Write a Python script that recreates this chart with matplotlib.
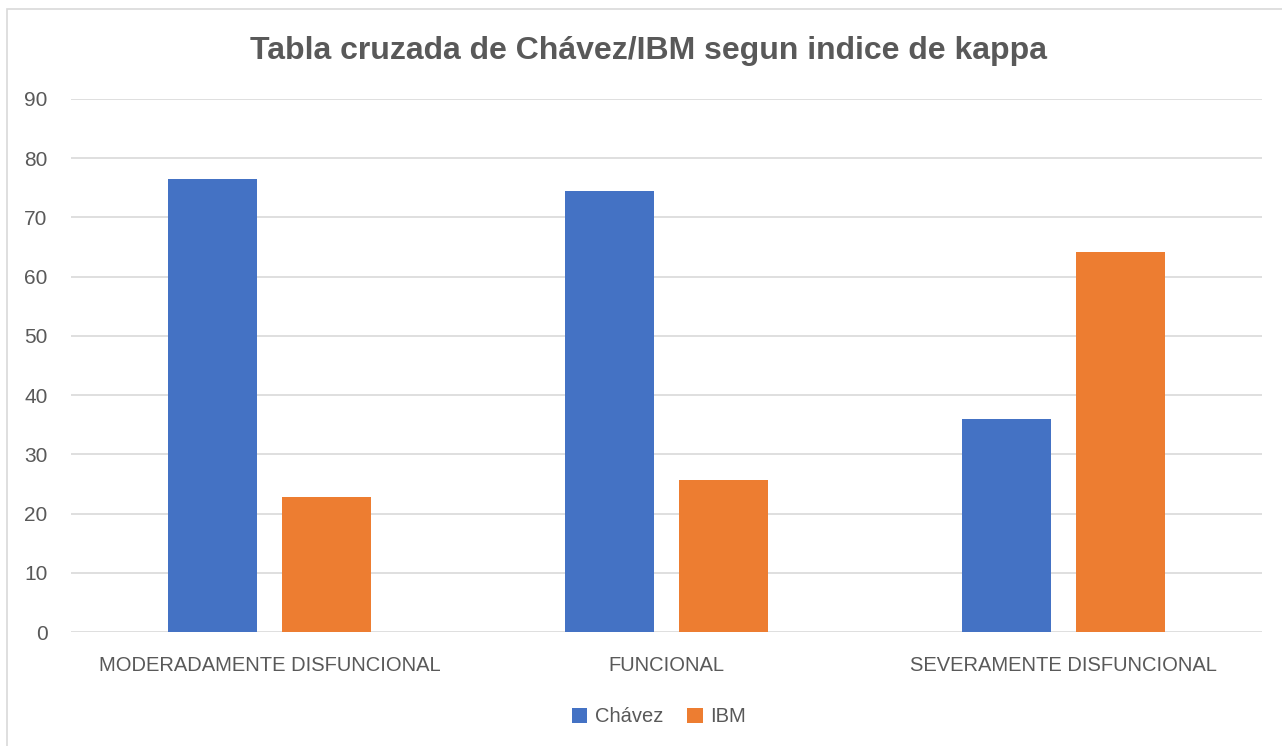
import matplotlib.pyplot as plt
import numpy as np
from matplotlib.patches import Rectangle

categorias = ["MODERADAMENTE DISFUNCIONAL", "FUNCIONAL", "SEVERAMENTE DISFUNCIONAL"]
chavez = [76.5, 74.4, 35.9]
ibm = [22.8, 25.6, 64.1]
yticks = [0, 10, 20, 30, 40, 50, 60, 70, 80, 90]

plt.rcParams['font.family'] = ['Liberation Sans', 'DejaVu Sans']
gris = "#595959"

fig = plt.figure(figsize=(12.82, 7.46), dpi=100)
ax = fig.add_axes([71/1282, 1 - 632/746, 1191/1282, 533/746])

x = np.arange(len(categorias))
w = 0.224
ax.bar(x - 0.144, chavez, w, color="#4472C4", label="Chávez", zorder=3)
ax.bar(x + 0.144, ibm, w, color="#ED7D31", label="IBM", zorder=3)

ax.set_xlim(-0.5, 2.5)
ax.set_ylim(0, 90)
ax.set_yticks(yticks)
ax.set_xticks(x)
ax.set_xticklabels(categorias)
ax.grid(axis="y", color="#D9D9D9", linewidth=1.2, zorder=0)
for s in ax.spines.values():
    s.set_visible(False)
ax.tick_params(axis="both", length=0, colors=gris)
ax.tick_params(axis="x", pad=17, labelsize=14.5)
ax.tick_params(axis="y", pad=17, labelsize=15)

fig.text(649/1282, 1 - 51/746, "Tabla cruzada de Chávez/IBM segun indice de kappa",
         ha="center", va="center", fontsize=23, fontweight="bold", color=gris)

leg = fig.legend(loc="center", bbox_to_anchor=(659/1282, 1 - 717/746), ncol=2, frameon=False,
                 fontsize=14.5, handlelength=0.75, handleheight=0.75, handletextpad=0.4,
                 columnspacing=1.2)
for t in leg.get_texts():
    t.set_color(gris)

# borde del grafico
fig.patches.append(Rectangle((7/1282, -0.01), 1.0, 1 - 9/746 + 0.01, transform=fig.transFigure,
                             fill=False, edgecolor="#D9D9D9", linewidth=1.2))

plt.savefig("out.png", dpi=100)
